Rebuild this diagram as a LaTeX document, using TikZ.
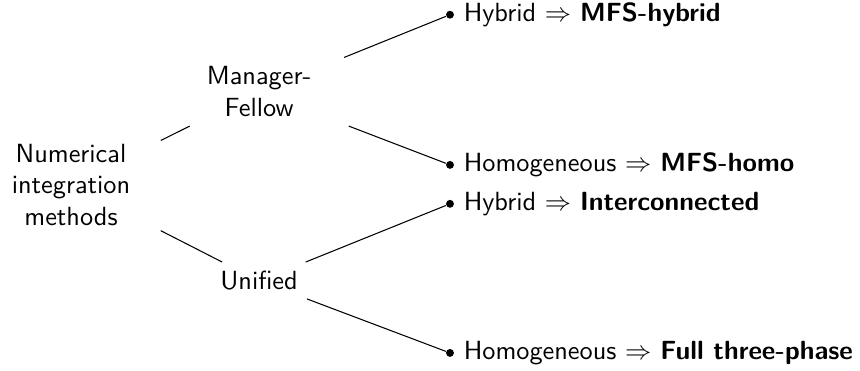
\documentclass[tikz,border=0pt]{standalone}
\usepackage{tikz}
\usetikzlibrary{positioning}
\renewcommand{\familydefault}{\sfdefault}
\tikzset{main node/.style={shape=rectangle,
    align=center, text width=2.15cm},
  sub node/.style={shape=rectangle, align=center},
  leaf dot/.style={shape=circle, fill, inner sep=0pt, minimum size=3pt},
  leaf text/.style={anchor=west, inner ysep=0pt}}

\begin{document}
\begin{tikzpicture}[on grid]
    \useasboundingbox (0,0) rectangle (327pt,-140.7pt);

    \node[main node] (1) at (27pt,-70.3pt) {Numerical integration methods};
    \node[main node] (2) [above right = 35.4pt and 71.5pt of 1] {Manager-\\Fellow};
    \node[sub node] (3) [below right = 36.5pt and 71.5pt of 1] {Unified};

%   bullets of the leaves
    \node[leaf dot] (4) [above right = 29.3pt and 72.6pt of 2] {};
    \node[leaf dot] (5) [below right = 27.8pt and 72.6pt of 2] {};
    \node[leaf dot] (6) [above right = 29.3pt and 72.6pt of 3] {};
    \node[leaf dot] (7) [below right = 27.4pt and 72.6pt of 3] {};

    \node[leaf text] (8) at (4.east) {Hybrid $\Rightarrow$ \textbf{MFS-hybrid}};
    \node[leaf text] (9) at (5.east) {Homogeneous $\Rightarrow$ \textbf{MFS-homo}};
    \node[leaf text] (10) at (6.east) {Hybrid $\Rightarrow$ \textbf{Interconnected}};
    \node[leaf text] (11) at (7.east) {Homogeneous $\Rightarrow$ \textbf{Full three-phase}};

    \path[draw]
    (1) edge node {} (2)
    (1) edge node {} (3)

    (2) edge node {} (4)
    (2) edge node {} (5)
    (3) edge node {} (6)
    (3) edge node {} (7)
    ;
\end{tikzpicture}
\end{document}
